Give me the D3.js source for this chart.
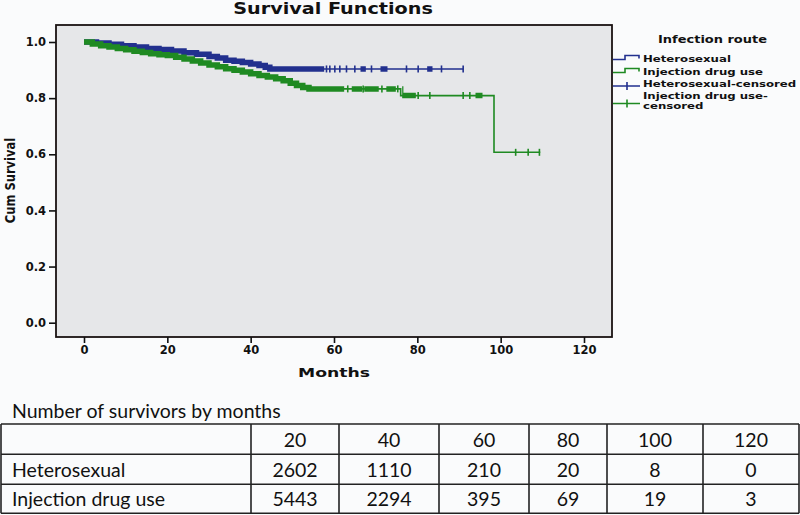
<!DOCTYPE html>
<html>
  <head>
    <meta charset="UTF-8"/>
    <script src="https://d3js.org/d3.v7.min.js"></script>
    <style>
      body { margin: 0; background: #fafbfc; }
      svg { display: block; }
      .bold { font-family: "DejaVu Sans", sans-serif; font-weight: bold; fill: #111; }
      .tbl { font-family: Lato, "Noto Sans", sans-serif; fill: #111; }
    </style>
  </head>
  <body>
    <script>
      // survival curves (step drops)
      const heteroTime = [0, 3, 6, 9, 12, 15, 18, 21, 24, 27, 30, 32, 34, 36, 38, 40, 42, 43.5, 44.6];
      const heteroSurv = [1.0, .996, .992, .987, .982, .977, .973, .968, .962, .956, .948, .943, .935, .931, .927, .922, .916, .910, .904];
      const heteroEnd = 91;
      const heteroDense = [[0, 57.4], [66.6, 67.4], [71.4, 72.6], [82.6, 83.4]];
      const heteroTicks = [58.2, 59, 60.2, 61.4, 63, 65, 69, 77.4, 80.2, 85.8, 91];

      const iduTime = [0, 2, 4, 6, 8, 10, 12, 14, 16, 18, 20, 22, 24, 26, 28, 30, 32, 34, 36, 38, 40, 42, 44, 46, 47.8, 49.5, 51, 52.5, 54, 76, 98.4];
      const iduSurv = [1.0, .993, .987, .982, .977, .972, .967, .963, .958, .955, .952, .946, .939, .932, .925, .918, .912, .905, .899, .893, .887, .881, .875, .869, .862, .853, .845, .838, .833, .809, .607];
      const iduEnd = 109.5;
      const iduDense = [[0, 62.2], [64.5, 66.5], [67.5, 70.5], [72.8, 74.6], [76.6, 79.4], [94.2, 95.4]];
      const iduTicks = [63.3, 67, 71.5, 75.3, 80.2, 83, 91, 92.6, 103.6, 106.6, 109.3];

      const xTicks = [0, 20, 40, 60, 80, 100, 120];
      const yTicks = [0, 0.2, 0.4, 0.6, 0.8, 1.0];

      const legendLabels = ['Heterosexual', 'Injection drug use', 'Heterosexual-censored', 'Injection drug use-|censored'];

      // table of survivors
      const tableMonths = [20, 40, 60, 80, 100, 120];
      const tableRows = ['Heterosexual', 'Injection drug use'];
      const heteroCounts = [2602, 1110, 210, 20, 8, 0];
      const iduCounts = [5443, 2294, 395, 69, 19, 3];

      const width = 800, height = 515;
      const blue = '#22308e', green = '#1f8a22';

      const svg = d3.select('body').append('svg')
        .attr('width', width).attr('height', height);

      const frame = {left: 56, right: 612, top: 25, bottom: 337};

      const x = d3.scaleLinear().domain([0, 120]).range([84, 584]);
      const y = d3.scaleLinear().domain([0, 1]).range([322.7, 42]);

      // stretched text helper (the source image is widened horizontally)
      function stext(g, str, px, py, size, sx, anchor) {
        return g.append('text')
          .attr('class', 'bold')
          .attr('transform', 'translate(' + px + ',' + py + ') scale(' + sx + ',1)')
          .attr('text-anchor', anchor || 'start')
          .style('font-size', size + 'px')
          .text(str);
      }

      stext(svg, 'Survival Functions', 333, 13.5, 15, 1.28, 'middle');

      svg.append('rect')
        .attr('x', frame.left).attr('y', frame.top)
        .attr('width', frame.right - frame.left).attr('height', frame.bottom - frame.top)
        .attr('fill', '#e6e7e9').attr('stroke', '#1a1212').attr('stroke-width', 1.8);

      // axes
      const xAxis = d3.axisBottom(x).tickValues(xTicks).tickSize(6).tickSizeOuter(0).tickPadding(3);
      const gx = svg.append('g').attr('transform', 'translate(0,' + frame.bottom + ')').call(xAxis);
      gx.select('.domain').remove();
      gx.selectAll('line').attr('stroke', '#111').attr('stroke-width', 1.6);
      gx.selectAll('text').attr('class', 'bold').style('font-size', '11.5px').attr('fill', '#111');

      const yAxis = d3.axisLeft(y).tickValues(yTicks).tickFormat(d3.format('.1f')).tickSize(7).tickSizeOuter(0).tickPadding(3);
      const gy = svg.append('g').attr('transform', 'translate(' + frame.left + ',0)').call(yAxis);
      gy.select('.domain').remove();
      gy.selectAll('line').attr('stroke', '#111').attr('stroke-width', 1.6);
      gy.selectAll('text').attr('class', 'bold').style('font-size', '11.5px').attr('fill', '#111');

      stext(svg, 'Months', 334, 377, 12.5, 1.38, 'middle');
      svg.append('text')
        .attr('class', 'bold')
        .attr('transform', 'translate(14.5,180.5) rotate(-90) scale(1,1.3)')
        .attr('text-anchor', 'middle')
        .style('font-size', '11.5px')
        .text('Cum Survival');

      // curves
      function stepPoints(times, surv, end) {
        const pts = [[times[0], surv[0]]];
        for (let i = 1; i < times.length; i++) {
          pts.push([times[i], surv[i - 1]]);
          pts.push([times[i], surv[i]]);
        }
        pts.push([end, surv[surv.length - 1]]);
        return pts;
      }
      function survAt(times, surv, t) {
        let s = surv[0];
        for (let i = 0; i < times.length; i++) if (times[i] <= t) s = surv[i];
        return s;
      }

      const line = d3.line().x(d => x(d[0])).y(d => y(d[1]));
      const defs = svg.append('defs');

      const series = [
        {id: 'het', times: heteroTime, surv: heteroSurv, end: heteroEnd, dense: heteroDense, ticks: heteroTicks, color: blue},
        {id: 'idu', times: iduTime, surv: iduSurv, end: iduEnd, dense: iduDense, ticks: iduTicks, color: green}
      ];

      series.forEach(s => {
        const pts = stepPoints(s.times, s.surv, s.end);
        svg.append('path').attr('d', line(pts))
          .attr('fill', 'none').attr('stroke', s.color).attr('stroke-width', 1.6);

        s.dense.forEach((span, i) => {
          const cid = 'clip-' + s.id + '-' + i;
          defs.append('clipPath').attr('id', cid).append('rect')
            .attr('x', x(span[0]) - 1).attr('y', 0)
            .attr('width', x(span[1]) - x(span[0]) + 2).attr('height', height);
          svg.append('path').attr('d', line(pts))
            .attr('clip-path', 'url(#' + cid + ')')
            .attr('fill', 'none').attr('stroke', s.color).attr('stroke-width', 5.5);
        });

        svg.selectAll(null).data(s.ticks).enter().append('line')
          .attr('x1', d => x(d)).attr('x2', d => x(d))
          .attr('y1', d => y(survAt(s.times, s.surv, d)) - 3.5)
          .attr('y2', d => y(survAt(s.times, s.surv, d)) + 3.5)
          .attr('stroke', s.color).attr('stroke-width', 1.6);
      });

      // legend
      stext(svg, 'Infection route', 712.5, 43, 11, 1.18, 'middle');
      const lg = svg.append('g').attr('transform', 'translate(613,0)');
      const rowY = [61.5, 74.5, 87, 99];
      lg.append('path').attr('d', 'M0,' + (rowY[0] - 2) + 'H12V' + (rowY[0] - 6) + 'H26V' + (rowY[0] - 3))
        .attr('fill', 'none').attr('stroke', blue).attr('stroke-width', 1.6);
      lg.append('path').attr('d', 'M0,' + (rowY[1] - 2) + 'H12V' + (rowY[1] - 6) + 'H26V' + (rowY[1] - 3))
        .attr('fill', 'none').attr('stroke', green).attr('stroke-width', 1.6);
      [[rowY[2] - 1, blue], [rowY[3] + 4.5, green]].forEach(r => {
        lg.append('path').attr('d', 'M0,' + r[0] + 'H27M14,' + (r[0] - 4) + 'V' + (r[0] + 4))
          .attr('fill', 'none').attr('stroke', r[1]).attr('stroke-width', 1.6);
      });
      legendLabels.forEach((lab, i) => {
        const parts = lab.split('|');
        parts.forEach((p, j) => stext(svg, p, 643, rowY[i] + j * 9.5, 8.5, 1.38));
      });

      // survivors table
      const tbl = svg.append('g');
      tbl.append('text').attr('class', 'tbl').attr('x', 12).attr('y', 418)
        .style('font-size', '19.5px').text('Number of survivors by months');

      const colEdges = [1, 251, 339, 439, 529, 607, 703, 799];
      const rowEdges = [424, 454.3, 484.3, 513.3];
      const colX = d3.scaleOrdinal().domain(tableMonths)
        .range(tableMonths.map((m, i) => (colEdges[i + 1] + colEdges[i + 2]) / 2));
      const rowBase = d3.scaleOrdinal().domain(['head'].concat(tableRows)).range([447, 476.5, 506]);

      tbl.selectAll('.hl').data(rowEdges).enter().append('line')
        .attr('x1', colEdges[0]).attr('x2', colEdges[colEdges.length - 1])
        .attr('y1', d => d).attr('y2', d => d)
        .attr('stroke', '#222').attr('stroke-width', 1.6);
      tbl.selectAll('.vl').data(colEdges).enter().append('line')
        .attr('x1', d => d).attr('x2', d => d)
        .attr('y1', rowEdges[0]).attr('y2', rowEdges[rowEdges.length - 1])
        .attr('stroke', '#222').attr('stroke-width', 1.6);

      tbl.selectAll('.mh').data(tableMonths).enter().append('text')
        .attr('class', 'tbl').attr('text-anchor', 'middle')
        .attr('x', d => colX(d)).attr('y', rowBase('head'))
        .style('font-size', '19.5px').text(d => d);

      [heteroCounts, iduCounts].forEach((vals, r) => {
        tbl.append('text').attr('class', 'tbl').attr('x', 12).attr('y', rowBase(tableRows[r]))
          .style('font-size', '19.5px').text(tableRows[r]);
        tbl.selectAll(null).data(vals).enter().append('text')
          .attr('class', 'tbl').attr('text-anchor', 'middle')
          .attr('x', (d, i) => colX(tableMonths[i])).attr('y', rowBase(tableRows[r]))
          .style('font-size', '19.5px').text(d => d);
      });
    </script>
  </body>
</html>
